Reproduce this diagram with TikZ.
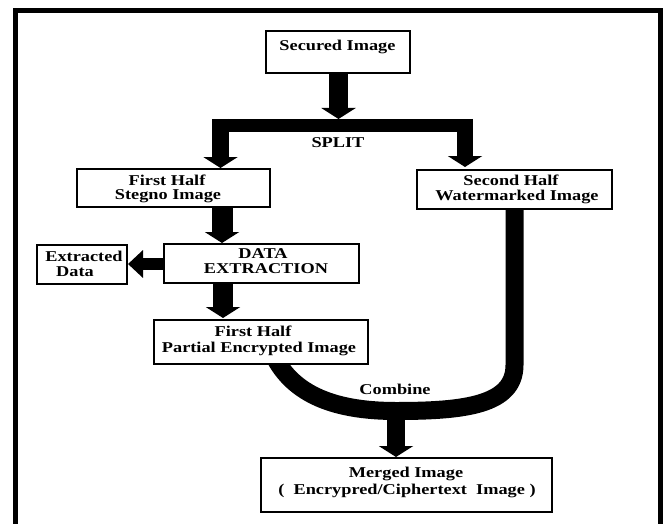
\documentclass[tikz,border=0pt]{standalone}
\usepackage{fontspec}
\setmainfont[FakeStretch=1.22]{Liberation Serif}
\usetikzlibrary{arrows.meta}
\begin{document}
\begin{tikzpicture}[x=1pt,y=-1pt,
  box/.style={draw, line width=2.2pt, fill=white, inner sep=0pt, minimum width=#1},
  txt/.style={anchor=base, inner sep=0pt, font=\fontsize{15}{18}\selectfont\bfseries},
  pipe/.style={line width=#1, draw=black},
  tipdown/.style={-{Triangle[width=34pt,length=11pt]}},
  tipleft/.style={-{Triangle[width=27pt,length=15pt]}},
  frame/.style={line width=5pt, draw=black}]
\useasboundingbox (0,0) rectangle (666,524);
\clip (0,0) rectangle (666,524);

% outer frame
\coordinate (fl) at (15.5,540);
\coordinate (ftl) at (15.5,10.5);
\coordinate (ftr) at (660.5,10.5);
\coordinate (fr) at (660.5,540);
\draw[frame] (fl) -- (ftl) -- (ftr) -- (fr);

% boxes (positions)
\coordinate (c-sec) at (338,52);
\coordinate (c-stg) at (173.5,188);
\coordinate (c-wm)  at (514.5,189.5);
\coordinate (c-dex) at (261.5,263.5);
\coordinate (c-exd) at (82,264.5);
\coordinate (c-pe)  at (261,342);
\coordinate (c-mrg) at (406.5,485);

% split bar coordinates
\coordinate (barL) at (212,125.5);
\coordinate (barR) at (473,125.5);
\coordinate (bartop) at (338.5,119);
\coordinate (dropL) at (220.5,119);
\coordinate (dropR) at (465,119);
\coordinate (cbot) at (396,405);

% connectors drawn first, boxes on top
\draw[pipe=19pt, tipdown] (338.5,73) -- (bartop);
\draw[pipe=13pt] (barL) -- (barR);
\draw[pipe=17pt, tipdown] (dropL) -- (220.5,168);
\draw[pipe=16pt, tipdown] (dropR) -- (465,167);
\draw[pipe=21pt, tipdown] (222,207) -- (222,243);
\draw[pipe=12pt, tipleft] (164,264) -- (128,264);
\draw[pipe=20pt, tipdown] (223,283) -- (223,318);
\draw[pipe=18pt] (514.5,209) -- (514.5,365)
   .. controls (514.5,405) and (465,411) .. (396,411)
   .. controls (330,411) and (290,392) .. (272,352);
\draw[pipe=18pt, tipdown] (cbot) -- (396,457);

% boxes
\node[box=144pt, minimum height=42pt] (sec) at (c-sec) {};
\node[box=193pt, minimum height=38pt] (stg) at (c-stg) {};
\node[box=195pt, minimum height=39pt] (wm)  at (c-wm) {};
\node[box=195pt, minimum height=39pt] (dex) at (c-dex) {};
\node[box=90pt,  minimum height=39pt] (exd) at (c-exd) {};
\node[box=214pt, minimum height=44pt] (pe)  at (c-pe) {};
\node[box=291pt, minimum height=54pt] (mrg) at (c-mrg) {};

% texts
\node[txt] (t-sec) at (337.5,51) {Secured Image};
\node[txt] (t-split) at (338,147) {SPLIT};
\node[txt] (t-stg1) at (167,185) {First Half};
\node[txt] (t-stg2) at (168,199) {Stegno Image};
\node[txt] (t-wm1) at (511,185) {Second Half};
\node[txt] (t-wm2) at (517,200) {Watermarked Image};
\node[txt] (t-exd1) at (84,261) {Extracted};
\node[txt] (t-exd2) at (75,276) {Data};
\node[txt] (t-dex1) at (263,258) {DATA};
\node[txt] (t-dex2) at (266,273) {EXTRACTION};
\node[txt] (t-pe1) at (253,336) {First Half};
\node[txt] (t-pe2) at (259,352) {Partial Encrypted Image};
\node[txt] (t-comb) at (395,394) {Combine};
\node[txt] (t-mrg1) at (406,477) {Merged Image};
\node[txt] (t-mrg2) at (407,494) {(\ \ Encrypred/Ciphertext\ \ Image )};
\end{tikzpicture}
\end{document}
